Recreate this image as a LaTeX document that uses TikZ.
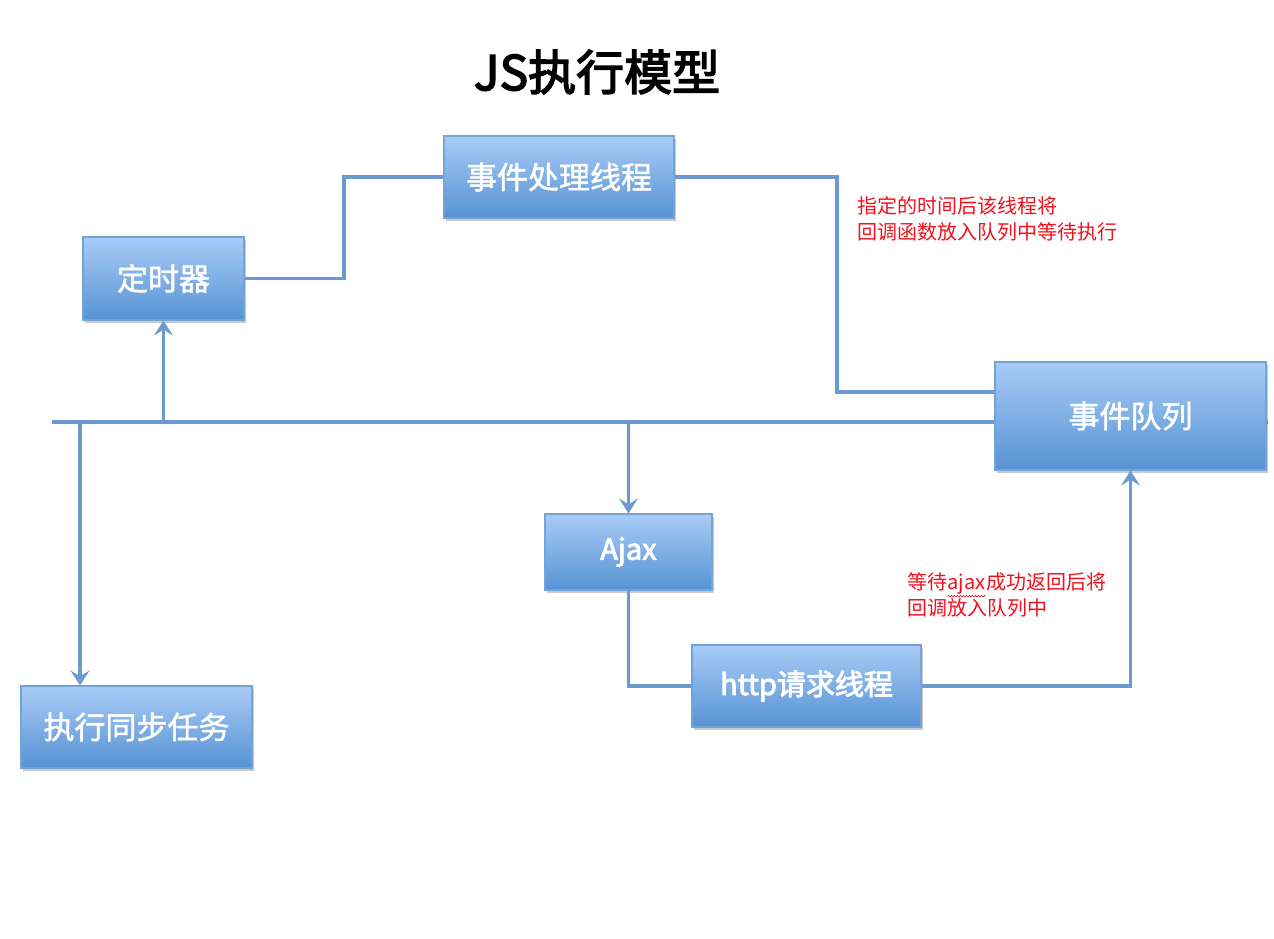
\documentclass[tikz,border=0pt]{standalone}
\usepackage{fontspec}
\setmainfont{Noto Sans CJK SC}
\newfontfamily\titlefont[FakeBold=3]{Noto Sans CJK SC}
\newfontfamily\labelfont[FakeBold=1.5]{Noto Sans CJK SC}
\newfontfamily\latinfont[FakeBold=3]{Noto Sans CJK SC}
\usetikzlibrary{arrows.meta,shadows,decorations.pathmorphing}

\definecolor{wire}{HTML}{6A9AD0}
\definecolor{boxtop}{HTML}{A9CBF6}
\definecolor{boxbot}{HTML}{5693D4}
\definecolor{boxedge}{HTML}{74A3D8}
\definecolor{note}{HTML}{F5101E}

\tikzset{
  proc/.style={rectangle, inner sep=0pt, draw=boxedge, line width=1.2pt,
    top color=boxtop, bottom color=boxbot, text=white,
    font=\labelfont\fontsize{31}{36}\selectfont,
    drop shadow={shadow xshift=2pt, shadow yshift=-3pt, opacity=0.35, fill=black!60}},
  wire/.style={draw=wire, line width=3.4pt},
  flow/.style={wire, -{Stealth[length=15pt,width=19pt,inset=6pt]}},
  remark/.style={text=note, anchor=west, align=left, inner sep=0pt,
    font=\fontsize{20}{26}\selectfont},
}

\begin{document}
\begin{tikzpicture}[x=1pt,y=-1pt]
  \fill[white] (0,0) rectangle (1274,938);
  \useasboundingbox (0,0) rectangle (1274,938);

  % main bus behind the boxes
  \coordinate (busL) at (52,422);
  \coordinate (busR) at (1268,422);
  \draw[wire] (busL) -- (busR);

  % title
  \node[font=\titlefont\fontsize{48}{54}\selectfont] (title) at (597,72) {JS执行模型};

  % boxes
  \node[proc, minimum width=230pt, minimum height=82pt] (tp) at (559,177) {事件处理线程};
  \node[proc, minimum width=161pt, minimum height=83pt] (tm) at (163.5,278.5) {定时器};
  \node[proc, minimum width=271pt, minimum height=108pt] (eq) at (1130.5,416) {事件队列};
  \node[proc, minimum width=167pt, minimum height=76pt, font=\latinfont\fontsize{29}{34}\selectfont] (ajax) at (628.5,552) {Ajax};
  \node[proc, minimum width=229pt, minimum height=82pt, font=\latinfont\fontsize{29}{34}\selectfont] (http) at (806.5,686) {http请求线程};
  \node[proc, minimum width=231pt, minimum height=82pt] (sync) at (136.5,727) {执行同步任务};

  % timer -> event thread -> queue
  \coordinate (k1) at (344,278.5);
  \draw[wire] (tm.east) -- (k1) |- (tp.west);
  \coordinate (k2) at (837,392);
  \draw[wire] (tp.east) -| (k2) -- (k2 -| eq.west);

  % branches off the bus
  \draw[flow] (tm.south |- busL) -- (tm.south);
  \coordinate (b2) at (80,422);
  \draw[flow] (b2) -- (b2 |- sync.north);
  \draw[flow] (ajax.north |- busL) -- (ajax.north);

  % ajax -> http thread -> queue
  \draw[wire] (ajax.south) |- (http.west);
  \draw[flow] (http.east) -| (eq.south);

  % notes
  \node[remark] (n1) at (857,218.5) {指定的时间后该线程将\\回调函数放入队列中等待执行};
  \node[remark] (n2) at (907,594.5) {等待\tikz[baseline=(w.base)]{\node[inner sep=0pt,text=note] (w) {ajax};
      \draw[note, line width=0.6pt, decorate, decoration={snake, amplitude=0.8pt, segment length=3pt}]
        ([yshift=-2pt]w.south west) -- ([yshift=-2pt]w.south east);}成功返回后将\\回调放入队列中};
\end{tikzpicture}
\end{document}
